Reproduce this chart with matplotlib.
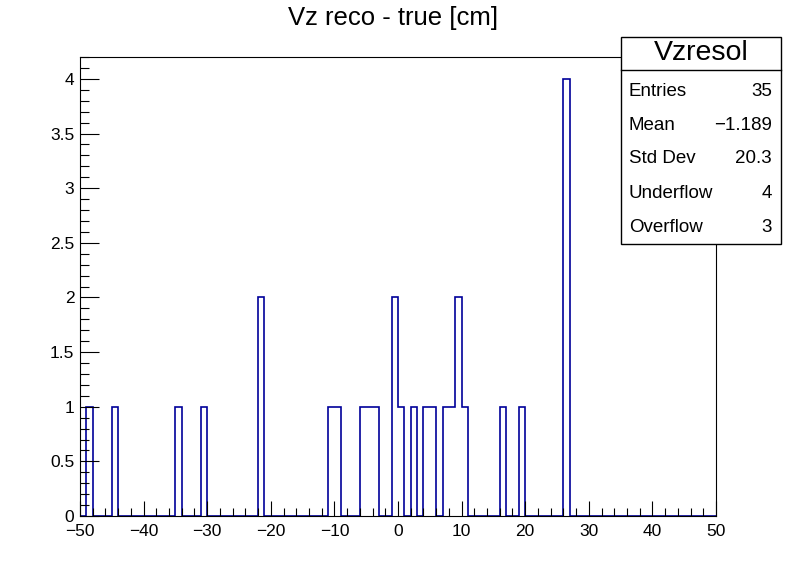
import numpy as np
import matplotlib
matplotlib.use("Agg")
import matplotlib.pyplot as plt
from matplotlib.patches import Rectangle
from matplotlib.ticker import MultipleLocator

plt.rcParams['font.family'] = ['Liberation Sans', 'DejaVu Sans']

# histogram Vzresol: 100 bins from -50 to 50, bin lower edges with their contents
bin_lo = [-49, -45, -35, -31, -22, -11, -10, -6, -5, -4, -1, 0, 2, 4, 5, 7, 8, 9, 10, 16, 19, 26]
bin_n = [1, 1, 1, 1, 2, 1, 1, 1, 1, 1, 2, 1, 1, 1, 1, 1, 1, 2, 1, 1, 1, 4]
stat_names = ["Entries", "Mean", "Std Dev", "Underflow", "Overflow"]
stat_vals = ["35", "\u22121.189", "20.3", "4", "3"]

edges = np.arange(-50, 51, 1)
counts = np.zeros(100)
for lo, n in zip(bin_lo, bin_n):
    counts[lo + 50] = n

fig = plt.figure(figsize=(7.96, 5.72), dpi=100)
ax = fig.add_axes([80/796, 1-516/572, 636/796, 459/572])
ax.stairs(counts, edges, color='#000099', lw=1.2, baseline=0)
ax.set_xlim(-50, 50)
ax.set_ylim(0, 4.2)

ax.xaxis.set_major_locator(MultipleLocator(10))
ax.xaxis.set_minor_locator(MultipleLocator(2))
ax.yaxis.set_major_locator(MultipleLocator(0.5))
ax.yaxis.set_minor_locator(MultipleLocator(0.1))
ax.tick_params(axis='x', which='major', direction='in', length=10.5, width=0.8, labelsize=12.5, pad=5.5)
ax.tick_params(axis='x', which='minor', direction='in', length=5.5, width=0.8)
ax.tick_params(axis='y', which='major', direction='in', length=13.5, width=0.8, labelsize=12.5, pad=4)
ax.tick_params(axis='y', which='minor', direction='in', length=6.5, width=0.8)
ax.xaxis.set_major_formatter(lambda v, p: f"{v:g}".replace('-', '\u2212'))
ax.yaxis.set_major_formatter(lambda v, p: f"{v:g}")
for s in ax.spines.values():
    s.set_linewidth(0.8)

fig.text(393.5/796, 1-18/572, "Vz reco - true [cm]", ha='center', va='center', fontsize=18.5)

# stats box
x0, x1 = 621/796, 781/796
yt, yb = 1-37/572, 1-244/572
ysep = 1-70/572
fig.patches.append(Rectangle((x0, yb), x1-x0, yt-yb, transform=fig.transFigure,
                             facecolor='white', edgecolor='black', lw=1.0, zorder=5))
fig.add_artist(plt.Line2D([x0, x1], [ysep, ysep], transform=fig.transFigure, color='black', lw=1.0, zorder=6))
fig.text((x0+x1)/2, (yt+ysep)/2, "Vzresol", ha='center', va='center', fontsize=20.5, zorder=7)
rows_y = [91, 125, 159, 194, 228]
for name, val, yy in zip(stat_names, stat_vals, rows_y):
    fig.text(629/796, 1-yy/572, name, ha='left', va='center', fontsize=13.5, zorder=7)
    fig.text(772/796, 1-yy/572, val, ha='right', va='center', fontsize=13.5, zorder=7)

fig.savefig("out.png", dpi=100)
